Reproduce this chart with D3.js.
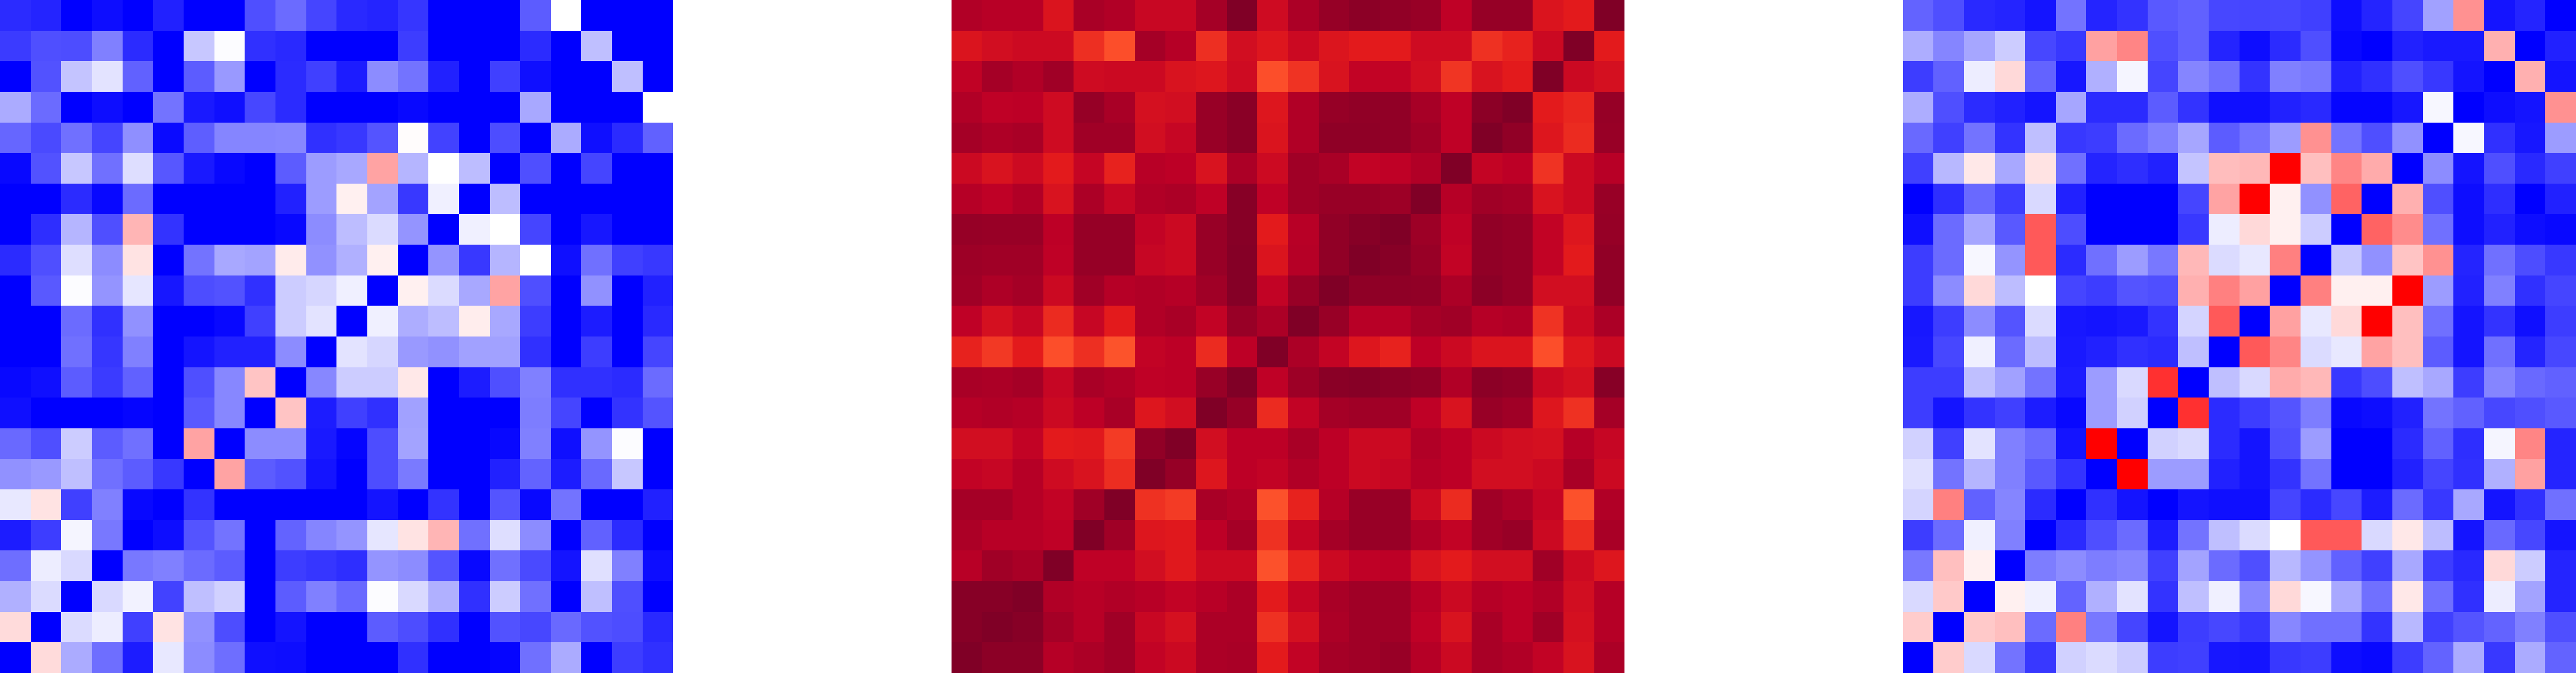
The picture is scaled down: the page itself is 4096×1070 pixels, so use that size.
<!DOCTYPE html>
<html>
<head>
<meta charset="utf-8">
<script src="https://d3js.org/d3.v7.min.js"></script>
<style>
html,body{margin:0;padding:0;background:#fff;overflow:hidden}
svg{display:block}
</style>
</head>
<body>
<div id="chart"></div>
<script>
const leftMatrix = [
[-.83,-.86,-1,-.95,-1,-.87,-1,-1,-.69,-.58,-.73,-.84,-.86,-.79,-1,-1,-1,-.64,0,-1,-1,-1],
[-.77,-.69,-.7,-.5,-.83,-1,-.22,-.01,-.81,-.84,-1,-1,-1,-.76,-1,-1,-1,-.83,-1,-.25,-1,-1],
[-1,-.68,-.23,-.11,-.62,-1,-.64,-.4,-1,-.83,-.75,-.89,-.45,-.55,-.87,-1,-.75,-.94,-1,-1,-.25,-1],
[-.33,-.58,-1,-.95,-1,-.55,-.9,-.94,-.72,-.83,-1,-1,-1,-.97,-1,-1,-1,-.34,-1,-1,-1,0],
[-.6,-.71,-.56,-.73,-.44,-.96,-.63,-.48,-.48,-.47,-.81,-.78,-.67,.01,-.74,-1,-.7,-1,-.33,-.94,-.83,-.62],
[-.97,-.68,-.22,-.56,-.13,-.66,-.9,-.97,-1,-.64,-.39,-.34,.36,-.29,0,-.26,-1,-.69,-1,-.73,-1,-1],
[-1,-1,-.83,-.97,-.58,-1,-1,-1,-1,-.87,-.39,.06,-.36,-.78,-.06,-1,-.26,-1,-1,-1,-1,-1],
[-1,-.82,-.29,-.69,.29,-.8,-1,-1,-1,-.97,-.45,-.26,-.14,-.42,-1,-.06,0,-.73,-1,-.91,-1,-1],
[-.83,-.69,-.13,-.45,.11,-1,-.55,-.34,-.36,.08,-.43,-.31,.06,-1,-.42,-.78,-.29,0,-.94,-.56,-.75,-.78],
[-1,-.65,-.01,-.42,-.1,-.91,-.7,-.68,-.81,-.2,-.16,-.06,-1,.06,-.14,-.34,.36,-.69,-1,-.43,-1,-.87],
[-1,-1,-.58,-.81,-.43,-1,-1,-.97,-.75,-.2,-.11,-1,-.06,-.32,-.26,.07,-.34,-.76,-1,-.89,-1,-.84],
[-1,-1,-.56,-.79,-.5,-1,-.92,-.87,-.87,-.45,-1,-.11,-.16,-.4,-.43,-.37,-.37,-.81,-1,-.76,-1,-.73],
[-.97,-.94,-.64,-.77,-.62,-1,-.69,-.47,.23,-1,-.47,-.2,-.2,.09,-1,-.89,-.69,-.5,-.81,-.81,-.83,-.58],
[-.94,-1,-1,-1,-.98,-1,-.65,-.47,-1,.23,-.89,-.75,-.81,-.37,-1,-1,-1,-.51,-.73,-1,-.8,-.67],
[-.59,-.69,-.2,-.64,-.56,-1,.36,-1,-.45,-.45,-.9,-.98,-.7,-.36,-1,-1,-.97,-.5,-.94,-.42,-.01,-1],
[-.43,-.4,-.25,-.56,-.64,-.78,-1,.36,-.64,-.68,-.92,-1,-.7,-.52,-1,-1,-.87,-.61,-.89,-.59,-.22,-1],
[-.09,.11,-.75,-.5,-.97,-1,-.8,-1,-1,-1,-1,-1,-.92,-1,-.8,-1,-.67,-.97,-.55,-1,-1,-.87],
[-.89,-.76,-.04,-.53,-1,-.95,-.67,-.55,-1,-.61,-.48,-.42,-.1,.11,.29,-.56,-.13,-.45,-1,-.62,-.83,-1],
[-.57,-.07,-.15,-1,-.53,-.5,-.58,-.64,-1,-.76,-.79,-.82,-.42,-.45,-.67,-.97,-.56,-.71,-.92,-.12,-.5,-.95],
[-.31,-.14,-1,-.15,-.05,-.74,-.25,-.18,-1,-.64,-.5,-.59,-.01,-.15,-.31,-.81,-.2,-.56,-1,-.25,-.69,-1],
[.14,-1,-.14,-.07,-.75,.11,-.43,-.7,-1,-.92,-1,-1,-.64,-.7,-.81,-1,-.68,-.72,-.59,-.68,-.7,-.84],
[-1,.14,-.33,-.57,-.89,-.09,-.45,-.57,-.94,-.95,-1,-1,-1,-.81,-1,-1,-.98,-.56,-.33,-1,-.76,-.81]
];
const middleMatrix = [
[.90,.885,.885,.78,.915,.90,.84,.84,.925,1,.82,.91,.955,.975,.965,.95,.87,.955,.955,.78,.75,1],
[.78,.81,.825,.825,.70,.625,.925,.89,.70,.81,.77,.83,.775,.75,.75,.82,.82,.695,.73,.83,1,.75],
[.865,.925,.90,.935,.82,.83,.83,.785,.77,.82,.625,.69,.785,.86,.86,.81,.685,.785,.75,1,.83,.80],
[.90,.87,.875,.82,.955,.915,.80,.81,.95,.98,.77,.90,.955,.965,.965,.92,.87,.975,1,.75,.72,.955],
[.925,.905,.915,.82,.935,.935,.81,.845,.95,.98,.78,.90,.97,.97,.965,.935,.87,1,.965,.77,.71,.95],
[.83,.785,.825,.75,.85,.73,.885,.875,.785,.91,.825,.935,.915,.86,.87,.90,1,.855,.875,.69,.83,.885],
[.89,.87,.90,.785,.91,.845,.90,.91,.87,.985,.87,.935,.95,.95,.94,1,.89,.935,.925,.785,.83,.95],
[.955,.95,.95,.875,.955,.955,.86,.83,.95,.985,.75,.885,.965,.985,1,.94,.87,.965,.955,.86,.77,.955],
[.94,.935,.935,.87,.955,.955,.845,.83,.95,.99,.78,.89,.965,1,.985,.95,.86,.965,.955,.86,.75,.965],
[.935,.905,.925,.83,.935,.89,.90,.89,.935,.99,.86,.95,1,.97,.97,.965,.91,.975,.955,.81,.81,.965],
[.87,.80,.845,.71,.845,.75,.90,.915,.86,.95,.91,1,.95,.885,.885,.925,.935,.89,.90,.69,.83,.91],
[.73,.675,.75,.625,.70,.615,.86,.875,.71,.875,1,.91,.855,.77,.73,.875,.83,.78,.78,.625,.77,.83],
[.915,.91,.925,.845,.915,.90,.87,.875,.95,1,.87,.94,.98,.985,.975,.965,.90,.975,.965,.83,.80,.985],
[.89,.90,.89,.83,.875,.915,.77,.81,1,.955,.71,.86,.925,.935,.935,.87,.785,.95,.935,.77,.695,.925],
[.81,.81,.86,.75,.76,.67,.965,1,.81,.875,.875,.915,.875,.83,.83,.90,.875,.83,.81,.80,.89,.845],
[.86,.845,.89,.82,.785,.705,1,.955,.77,.875,.86,.90,.875,.83,.845,.89,.875,.81,.81,.83,.915,.83],
[.925,.925,.89,.86,.935,1,.695,.67,.915,.90,.62,.73,.89,.95,.95,.83,.71,.935,.91,.85,.62,.90],
[.91,.885,.885,.87,1,.935,.77,.76,.875,.925,.695,.85,.925,.95,.95,.90,.86,.935,.95,.83,.705,.915],
[.885,.935,.915,1,.87,.87,.81,.76,.83,.83,.62,.725,.83,.87,.875,.785,.75,.81,.81,.935,.825,.77],
[.985,.985,1,.90,.885,.90,.885,.86,.885,.91,.75,.85,.915,.935,.935,.885,.83,.89,.875,.90,.81,.89],
[.985,1,.985,.925,.885,.935,.84,.80,.91,.91,.695,.80,.91,.935,.935,.87,.785,.915,.875,.935,.80,.89],
[1,.975,.975,.89,.91,.935,.86,.83,.91,.915,.75,.86,.925,.935,.95,.89,.83,.915,.90,.86,.785,.91]
];
const rightMatrix = [
[-.61,-.69,-.84,-.86,-.92,-.55,-.86,-.8,-.65,-.62,-.72,-.73,-.72,-.75,-.95,-.86,-.73,-.37,.43,-.92,-.86,-1],
[-.32,-.48,-.35,-.2,-.72,-.78,.37,.48,-.69,-.62,-.86,-.95,-.83,-.69,-.97,-1,-.87,-.9,-.9,.31,-1,-.87],
[-.76,-.62,-.07,.15,-.61,-.91,-.31,-.04,-.73,-.48,-.56,-.8,-.5,-.53,-.87,-.81,-.69,-.78,-.92,-1,.31,-.92],
[-.32,-.69,-.83,-.87,-.92,-.35,-.83,-.83,-.64,-.8,-.94,-.94,-.87,-.84,-.98,-.98,-.91,-.03,-1,-.95,-.92,.43],
[-.59,-.75,-.55,-.8,-.25,-.78,-.76,-.58,-.5,-.35,-.64,-.55,-.39,.43,-.55,-.69,-.43,-1,-.03,-.81,-.91,-.39],
[-.75,-.28,.09,-.34,.11,-.56,-.86,-.82,-.87,-.23,.26,.28,1,.25,.48,.33,-1,-.45,-.92,-.69,-.84,-.75],
[-1,-.82,-.59,-.76,-.15,-.87,-1,-1,-1,-.73,.36,1,.06,-.43,.61,-1,.31,-.69,-.95,-.82,-1,-.87],
[-.94,-.58,-.35,-.65,.65,-.7,-1,-1,-1,-.78,-.07,.15,.06,-.2,-1,.61,.45,-.56,-.95,-.87,-.95,-.97],
[-.76,-.58,-.03,-.42,.65,-.83,-.56,-.39,-.53,.28,-.14,-.09,.5,-1,-.22,-.43,.23,.43,-.86,-.56,-.7,-.78],
[-.76,-.45,.15,-.26,0,-.73,-.76,-.67,-.69,.31,.5,.37,-1,.5,.06,.06,1,-.39,-.87,-.5,-.81,-.73],
[-.91,-.76,-.45,-.67,-.14,-.91,-.92,-.9,-.8,-.17,.65,-1,.37,-.09,.15,1,.25,-.56,-.92,-.8,-.94,-.76],
[-.9,-.72,-.06,-.58,-.26,-.9,-.87,-.81,-.83,-.25,-1,.65,.48,-.14,-.09,.36,.25,-.64,-.92,-.56,-.86,-.72],
[-.76,-.76,-.25,-.37,-.55,-.89,-.39,-.15,.81,-1,-.25,-.15,.33,.28,-.78,-.7,-.25,-.34,-.76,-.48,-.59,-.62],
[-.76,-.92,-.8,-.75,-.89,-.97,-.39,-.18,-1,.81,-.83,-.76,-.67,-.51,-.97,-.95,-.87,-.55,-.62,-.72,-.69,-.65],
[-.18,-.75,-.11,-.5,-.58,-.92,1,-1,-.18,-.15,-.83,-.92,-.69,-.39,-1,-1,-.83,-.62,-.82,-.04,.48,-.86],
[-.12,-.55,-.29,-.5,-.65,-.8,-1,1,-.39,-.39,-.87,-.92,-.8,-.55,-1,-1,-.87,-.73,-.81,-.31,.37,-.86],
[-.17,.5,-.62,-.48,-.83,-1,-.81,-.92,-1,-.92,-.94,-.94,-.73,-.83,-.72,-.89,-.58,-.78,-.34,-.92,-.81,-.56],
[-.76,-.58,-.06,-.5,-1,-.83,-.69,-.58,-.89,-.55,-.25,-.14,0,.65,.65,-.15,.09,-.26,-.92,-.59,-.72,-.92],
[-.53,.25,.06,-1,-.51,-.45,-.51,-.48,-.75,-.36,-.58,-.69,-.28,-.42,-.62,-.75,-.34,-.76,-.84,.15,-.2,-.86],
[-.15,.21,-1,.06,-.06,-.61,-.31,-.11,-.8,-.25,-.06,-.47,.15,-.03,-.34,-.56,.09,-.56,-.81,-.07,-.36,-.86],
[.2,-1,.21,.25,-.58,.5,-.53,-.73,-.92,-.76,-.72,-.78,-.47,-.56,-.56,-.8,-.28,-.75,-.67,-.61,-.5,-.69],
[-1,.2,-.15,-.55,-.78,-.18,-.14,-.2,-.76,-.75,-.91,-.92,-.78,-.76,-.95,-.97,-.76,-.61,-.33,-.78,-.33,-.61]
];

const bwrStops = ["#0000ff", "#ffffff", "#ff0000"];
const bwrDomain = [-1, 0, 1];
const yoStops = ["#ffffcc","#ffeda0","#fed976","#feb24c","#fd8d3c","#fc4e2a","#e31a1c","#bd0026","#800026"];
const yoDomain = [0, .125, .25, .375, .5, .625, .75, .875, 1];

const refW = 4648, refH = 1214, k = 4096 / refW;
const panelSize = 1214.7 * k, panelH = 1070;
const panelLeft = [0, 1716.7 * k, 3433.3 * k];

const bwr = d3.scaleLinear().domain(bwrDomain).range(bwrStops);
const yo = d3.scaleLinear().domain(yoDomain).range(yoStops);

const panels = [
  {m: leftMatrix, c: bwr},
  {m: middleMatrix, c: yo},
  {m: rightMatrix, c: bwr}
];

const svg = d3.select("#chart").append("svg")
  .attr("width", 4096).attr("height", 1070);

panels.forEach((p, i) => {
  const cols = d3.range(p.m[0].length), rows = d3.range(p.m.length);
  const x = d3.scaleBand().domain(cols).range([panelLeft[i], panelLeft[i] + panelSize]);
  const y = d3.scaleBand().domain(rows).range([0, panelH]);
  const cells = p.m.flatMap((row, r) => row.map((v, c) => ({r, c, v})));
  svg.append("g").selectAll("rect").data(cells).join("rect")
    .attr("x", d => x(d.c)).attr("y", d => y(d.r))
    .attr("width", x.bandwidth()).attr("height", y.bandwidth())
    .attr("fill", d => p.c(d.v))
    .attr("shape-rendering", "crispEdges");
});
</script>
</body>
</html>
